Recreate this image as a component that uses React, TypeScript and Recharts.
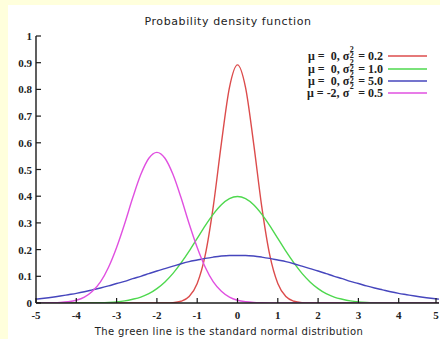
import React from "react";
import { Legend, Line, LineChart, XAxis, YAxis } from "recharts";

// ============================================
// Data
// ============================================

const xValues = [
  -5, -4.8, -4.6, -4.4, -4.2, -4, -3.8, -3.6, -3.4, -3.2, -3, -2.8, -2.6, -2.4, -2.2, -2, -1.8,
  -1.6, -1.4, -1.2, -1, -0.8, -0.6, -0.4, -0.2, 0, 0.2, 0.4, 0.6, 0.8, 1, 1.2, 1.4, 1.6, 1.8, 2,
  2.2, 2.4, 2.6, 2.8, 3, 3.2, 3.4, 3.6, 3.8, 4, 4.2, 4.4, 4.6, 4.8, 5,
];

// mu = 0, var = 0.2
const redValues = [
  0, 0, 0, 0, 0, 0, 0, 0, 0, 0, 0, 0, 0, 0, 0, 0, 0.0003, 0.0015, 0.0066, 0.024, 0.073, 0.18,
  0.363, 0.598, 0.807, 0.892, 0.807, 0.598, 0.363, 0.18, 0.073, 0.024, 0.0066, 0.0015, 0.0003, 0,
  0, 0, 0, 0, 0, 0, 0, 0, 0, 0, 0, 0, 0, 0, 0,
];

// mu = 0, var = 1.0
const greenValues = [
  0, 0, 0, 0, 0.0001, 0.0001, 0.0003, 0.0006, 0.0012, 0.0024, 0.0044, 0.008, 0.014, 0.022, 0.035,
  0.054, 0.079, 0.111, 0.15, 0.194, 0.242, 0.29, 0.333, 0.368, 0.391, 0.399, 0.391, 0.368, 0.333,
  0.29, 0.242, 0.194, 0.15, 0.111, 0.079, 0.054, 0.035, 0.022, 0.014, 0.008, 0.0044, 0.0024,
  0.0012, 0.0006, 0.0003, 0.0001, 0.0001, 0, 0, 0, 0,
];

// mu = 0, var = 5.0
const blueValues = [
  0.0146, 0.0178, 0.0215, 0.026, 0.031, 0.036, 0.042, 0.049, 0.056, 0.064, 0.073, 0.081, 0.091,
  0.1, 0.11, 0.12, 0.129, 0.138, 0.147, 0.155, 0.161, 0.167, 0.172, 0.176, 0.178, 0.178, 0.178,
  0.176, 0.172, 0.167, 0.161, 0.155, 0.147, 0.138, 0.129, 0.12, 0.11, 0.1, 0.091, 0.081, 0.073,
  0.064, 0.056, 0.049, 0.042, 0.036, 0.031, 0.026, 0.0215, 0.0178, 0.0146,
];

// mu = -2, var = 0.5
const magentaValues = [
  0.0001, 0.0002, 0.0007, 0.0018, 0.0045, 0.0103, 0.022, 0.044, 0.079, 0.134, 0.208, 0.297, 0.394,
  0.481, 0.542, 0.564, 0.542, 0.481, 0.394, 0.297, 0.208, 0.134, 0.079, 0.044, 0.022, 0.0103,
  0.0045, 0.0018, 0.0007, 0.0002, 0.0001, 0, 0, 0, 0, 0, 0, 0, 0, 0, 0, 0, 0, 0, 0, 0, 0, 0, 0, 0,
  0,
];

const xTicks = [-5, -4, -3, -2, -1, 0, 1, 2, 3, 4, 5];
const yTicks = [0, 0.1, 0.2, 0.3, 0.4, 0.5, 0.6, 0.7, 0.8, 0.9, 1];

const seriesKeys = ["red", "green", "blue", "magenta"];
const seriesColors = ["#dc4c4c", "#4ed84e", "#4646bd", "#e050e0"];
const legendMu = [" 0", " 0", " 0", "-2"];
const legendVar = ["0.2", "1.0", "5.0", "0.5"];
const legendSub = [true, true, true, false];

const data = xValues.map((x, i) => ({
  x,
  red: redValues[i],
  green: greenValues[i],
  blue: blueValues[i],
  magenta: magentaValues[i],
}));

// ============================================
// Styles
// ============================================

const SERIF = "'Liberation Serif', 'Times New Roman', serif";
const SANS = "'DejaVu Sans', sans-serif";
const AXIS = { stroke: "#1a1a1a", strokeWidth: 1.4 };
const TICK_LEN = 5;

// ============================================
// Ticks (gnuplot style: pointing inward)
// ============================================

function BottomTick(props: any) {
  const { x, y, payload } = props;
  return (
    <g>
      <line x1={x} y1={y} x2={x} y2={y - TICK_LEN} stroke="#1a1a1a" strokeWidth={1.2} />
      <text
        x={x}
        y={y + 16}
        textAnchor="middle"
        fontFamily={SERIF}
        fontSize={11}
        fontWeight="bold"
        fill="#222"
      >
        {payload.value}
      </text>
    </g>
  );
}

function TopTick(props: any) {
  const { x, y } = props;
  return <line x1={x} y1={y} x2={x} y2={y + TICK_LEN} stroke="#1a1a1a" strokeWidth={1.2} />;
}

function LeftTick(props: any) {
  const { x, y, payload } = props;
  return (
    <g>
      <line x1={x} y1={y} x2={x + TICK_LEN} y2={y} stroke="#1a1a1a" strokeWidth={1.2} />
      <text
        x={x - 4}
        y={y + 4}
        textAnchor="end"
        fontFamily={SERIF}
        fontSize={11}
        fontWeight="bold"
        fill="#222"
      >
        {payload.value}
      </text>
    </g>
  );
}

function RightTick(props: any) {
  const { x, y } = props;
  return <line x1={x} y1={y} x2={x - TICK_LEN} y2={y} stroke="#1a1a1a" strokeWidth={1.2} />;
}

// ============================================
// Legend
// ============================================

function SigmaSquared({ sub }: { sub: boolean }) {
  return (
    <>
      σ
      <span style={{ position: "relative", display: "inline-block", width: 6, height: 0, fontSize: 8 }}>
        <span style={{ position: "absolute", left: 0.5, top: -16 }}>2</span>
        {sub && <span style={{ position: "absolute", left: 0.5, top: -10 }}>2</span>}
      </span>
    </>
  );
}

function KeyContent() {
  // fixed gnuplot key order
  return (
    <div style={{ fontFamily: SERIF, fontSize: 12, fontWeight: "bold", color: "#222" }}>
      {seriesKeys.map((key, i) => (
        <div key={key} style={{ display: "flex", alignItems: "center", height: 12.4 }}>
          <span style={{ width: 93, textAlign: "right", whiteSpace: "pre", lineHeight: "12px" }}>
            {`μ = ${legendMu[i]}, `}
            <SigmaSquared sub={legendSub[i]} />
            {` = ${legendVar[i]}`}
          </span>
          <svg width={44} height={6} style={{ marginLeft: 5 }}>
            <line x1={0} y1={3} x2={39} y2={3} stroke={seriesColors[i]} strokeWidth={1.4} />
          </svg>
        </div>
      ))}
    </div>
  );
}

// ============================================
// Chart
// ============================================

export default function App() {
  return (
    <div
      style={{
        position: "absolute",
        left: 0,
        top: 0,
        width: 440,
        height: 339,
        background: "#FFFFDC",
        overflow: "hidden",
      }}
    >
      <div
        style={{ position: "absolute", left: 8, top: 5, width: 432, height: 334, background: "#fff" }}
      />
      <div
        style={{
          position: "absolute",
          left: 0,
          top: 15,
          width: 456,
          textAlign: "center",
          fontFamily: SANS,
          fontSize: 11,
          letterSpacing: 0.6,
          color: "#222",
        }}
      >
        Probability density function
      </div>
      <div
        style={{
          position: "absolute",
          left: 0,
          top: 326,
          width: 458,
          textAlign: "center",
          fontFamily: SANS,
          fontSize: 10,
          letterSpacing: 0.4,
          color: "#222",
        }}
      >
        The green line is the standard normal distribution
      </div>
      <div style={{ position: "absolute", left: 0, top: 0 }}>
        <LineChart width={440} height={339} data={data} margin={{ top: 36, right: 1, bottom: 6, left: 0 }}>
          <XAxis
            dataKey="x"
            type="number"
            domain={[-5, 5]}
            ticks={xTicks}
            height={30}
            tickSize={0}
            tickMargin={0}
            axisLine={AXIS}
            tickLine={false}
            tick={<BottomTick />}
            allowDataOverflow
          />
          <XAxis
            xAxisId="top"
            orientation="top"
            dataKey="x"
            type="number"
            domain={[-5, 5]}
            ticks={xTicks}
            height={0}
            tickSize={0}
            tickMargin={0}
            axisLine={AXIS}
            tickLine={false}
            tick={<TopTick />}
          />
          <YAxis
            type="number"
            domain={[0, 1]}
            ticks={yTicks}
            width={36}
            tickSize={0}
            tickMargin={0}
            axisLine={AXIS}
            tickLine={false}
            tick={<LeftTick />}
            allowDataOverflow
          />
          <YAxis
            yAxisId="right"
            orientation="right"
            type="number"
            domain={[0, 1]}
            ticks={yTicks}
            width={0}
            tickSize={0}
            tickMargin={0}
            axisLine={AXIS}
            tickLine={false}
            tick={<RightTick />}
          />
          <Legend
            layout="vertical"
            align="center"
            verticalAlign="middle"
            content={<KeyContent />}
            wrapperStyle={{ left: 290, top: 50, width: 145, height: "auto" }}
          />
          {seriesKeys.map((key, i) => (
            <Line
              key={key}
              dataKey={key}
              type="monotone"
              stroke={seriesColors[i]}
              strokeWidth={1.4}
              dot={false}
              activeDot={false}
              isAnimationActive={false}
            />
          ))}
        </LineChart>
      </div>
    </div>
  );
}
